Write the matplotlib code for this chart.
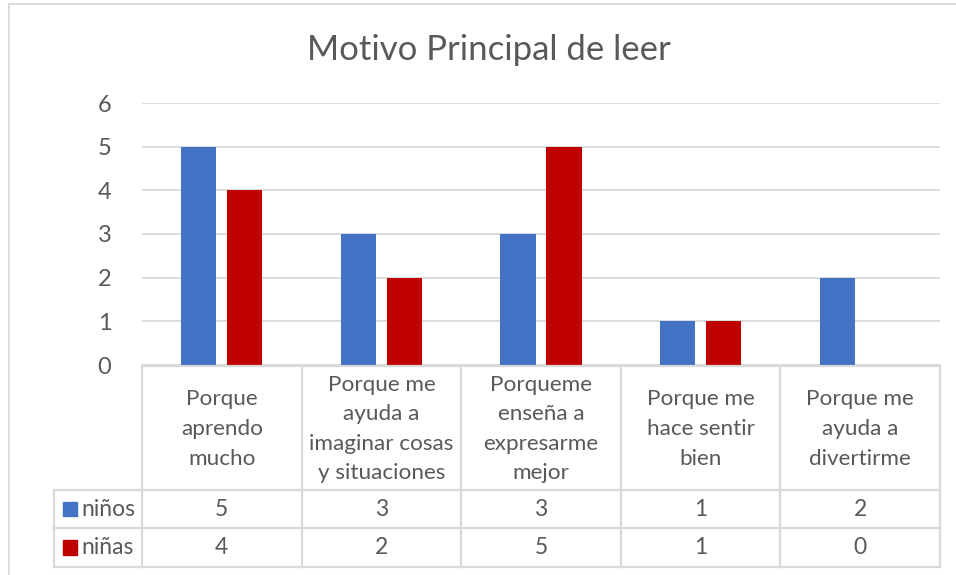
import matplotlib
matplotlib.use("Agg")
import matplotlib.pyplot as plt
from matplotlib.patches import Rectangle
from matplotlib.transforms import blended_transform_factory

categories = ["Porque\naprendo\nmucho",
              "Porque me\nayuda a\nimaginar cosas\ny situaciones",
              "Porqueme\nenseña a\nexpresarme\nmejor",
              "Porque me\nhace sentir\nbien",
              "Porque me\nayuda a\ndivertirme"]
ninos = [5, 3, 3, 1, 2]
ninas = [4, 2, 5, 1, 0]
series_names = ["niños", "niñas"]
colors = ["#4472C4", "#C00000"]
yticks = [0, 1, 2, 3, 4, 5, 6]
title = "Motivo Principal de leer"

plt.rcParams['font.family'] = ['Lato', 'DejaVu Sans']
TXT = "#595959"
GRID = "#D9D9D9"

W, H = 956, 575
fig = plt.figure(figsize=(W / 100, H / 100), dpi=100)

def fx(px):
    return px / W

def fy(py):
    return 1 - py / H

# outer chart border
fig.patches.append(Rectangle((fx(9), fy(600)), fx(960) - fx(9), fy(4) - fy(600),
                             transform=fig.transFigure, fill=False,
                             edgecolor=GRID, linewidth=1.3))

ax = fig.add_axes([fx(142), fy(365), fx(940) - fx(142), fy(103) - fy(365)])
x = list(range(len(categories)))
bw = 0.22
off = 0.144
ax.bar([i - off for i in x], ninos, width=bw, color=colors[0], zorder=3)
ax.bar([i + off for i in x], ninas, width=bw, color=colors[1], zorder=3)
ax.set_xlim(-0.5, len(categories) - 0.5)
ax.set_ylim(0, 6)
ax.set_yticks(yticks)
ax.set_yticklabels([str(t) for t in yticks], fontsize=17, color=TXT)
ax.tick_params(axis='y', length=0, pad=22)
ax.set_xticks([])
for s in ax.spines.values():
    s.set_visible(False)
ax.grid(axis='y', color=GRID, linewidth=1.3, zorder=0)
ax.set_axisbelow(True)

fig.text(fx(489), fy(50), title, ha='center', va='center',
         fontsize=25, color=TXT, fontweight='normal')

# data table
tr = blended_transform_factory(ax.transData, fig.transFigure)
lw = 1.6
n = len(categories)
top, hdr_bot, r1_bot, r2_bot = 366, 490, 528, 567
fig.lines.append(plt.Line2D([-0.5, n - 0.5], [fy(top), fy(top)], transform=tr,
                            color=GRID, linewidth=lw))
for yy in (hdr_bot, r1_bot, r2_bot):
    fig.lines.append(plt.Line2D([fx(54), fx(940)], [fy(yy), fy(yy)],
                                transform=fig.transFigure, color=GRID, linewidth=lw))
for i in range(n + 1):
    xb = i - 0.5
    fig.lines.append(plt.Line2D([xb, xb], [fy(top), fy(r2_bot)], transform=tr,
                                color=GRID, linewidth=lw))
fig.lines.append(plt.Line2D([fx(54), fx(54)], [fy(hdr_bot), fy(r2_bot)],
                            transform=fig.transFigure, color=GRID, linewidth=lw))

for i, c in enumerate(categories):
    fig.text(i, fy((top + hdr_bot) / 2 + 1), c, transform=tr, ha='center', va='center',
             fontsize=16.2, color=TXT, linespacing=1.6, multialignment='center')
    fig.text(i, fy((hdr_bot + r1_bot) / 2), str(ninos[i]), transform=tr, ha='center',
             va='center', fontsize=16.5, color=TXT)
    fig.text(i, fy((r1_bot + r2_bot) / 2), str(ninas[i]), transform=tr, ha='center',
             va='center', fontsize=16.5, color=TXT)

for k, (name, col) in enumerate(zip(series_names, colors)):
    yc = (hdr_bot + r1_bot) / 2 if k == 0 else (r1_bot + r2_bot) / 2
    fig.patches.append(Rectangle((fx(63), fy(yc + 7)), fx(77) - fx(63), fy(yc - 7) - fy(yc + 7),
                                 transform=fig.transFigure, color=col))
    fig.text(fx(81), fy(yc), name, ha='left', va='center', fontsize=16.5, color=TXT)

fig.savefig("out.png", dpi=100, facecolor='white')
